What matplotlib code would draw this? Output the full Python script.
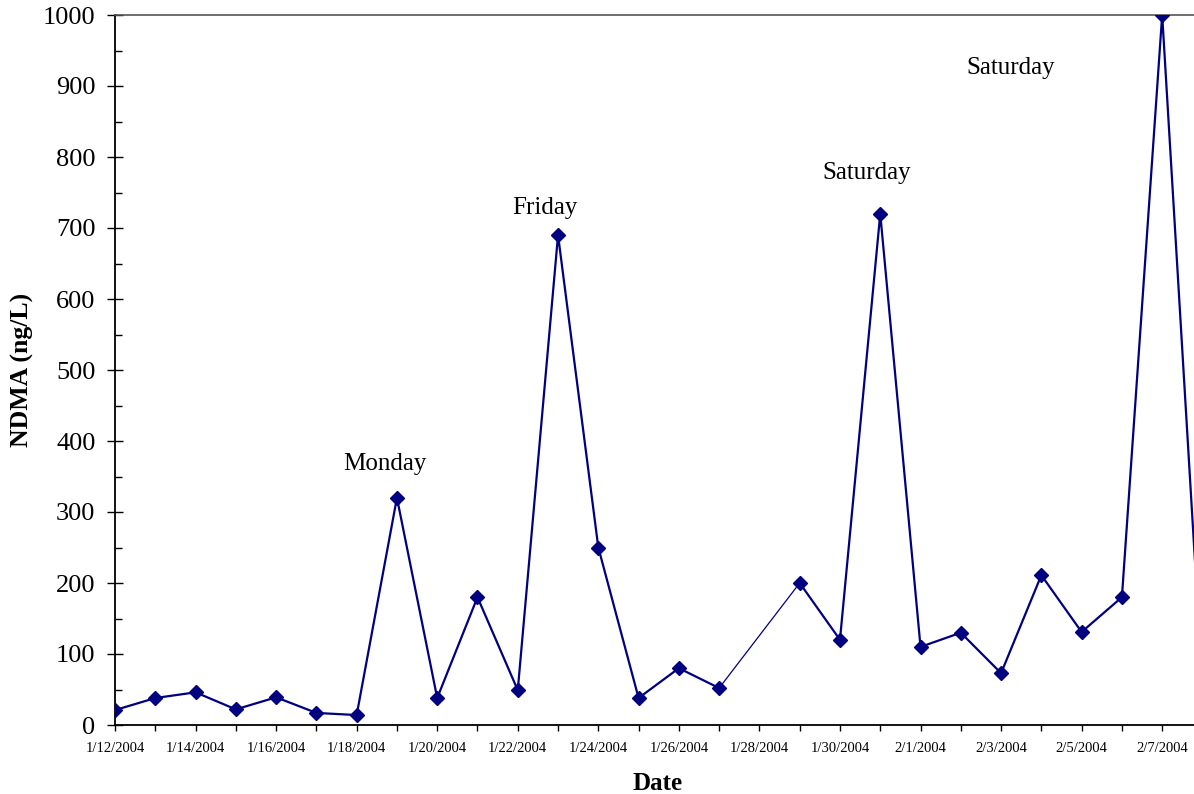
import matplotlib
matplotlib.use("Agg")
import matplotlib.pyplot as plt
import matplotlib.dates as mdates
import matplotlib.ticker as mticker
import datetime as dt

dates = ["2004-01-12", "2004-01-13", "2004-01-14", "2004-01-15", "2004-01-16",
         "2004-01-17", "2004-01-18", "2004-01-19", "2004-01-20", "2004-01-21",
         "2004-01-22", "2004-01-23", "2004-01-24", "2004-01-25", "2004-01-26",
         "2004-01-27", "2004-01-29", "2004-01-30", "2004-01-31", "2004-02-01",
         "2004-02-02", "2004-02-03", "2004-02-04", "2004-02-05", "2004-02-06",
         "2004-02-07", "2004-02-08"]
ndma = [21, 38, 46, 22, 39, 17, 14, 320, 38, 180, 49, 690, 250, 38, 80, 52,
        200, 120, 720, 110, 130, 73, 211, 131, 180, 1000, 55]

annot_text = ["Monday", "Friday", "Saturday", "Saturday"]
annot_date = ["2004-01-18 17:00", "2004-01-22 16:00", "2004-01-30 16:00", "2004-02-03 06:00"]
annot_val = [367, 728, 777, 925]

plt.rcParams['font.family'] = ['Liberation Serif', 'DejaVu Serif']

x = [dt.datetime.fromisoformat(d) for d in dates]
xn = mdates.date2num(x)

fig = plt.figure(figsize=(11.94, 7.94), dpi=100)
ax = fig.add_axes([115/1194, 1 - 725/794, 1 - 115/1194, 710/794])

col = '#000080'
gap = 15
ax.plot(xn[:gap+1], ndma[:gap+1], color=col, lw=1.6, zorder=2)
ax.plot(xn[gap:gap+2], ndma[gap:gap+2], color=col, lw=0.9, zorder=2)
ax.plot(xn[gap+1:], ndma[gap+1:], color=col, lw=1.6, zorder=2)
ax.plot(xn, ndma, linestyle='none', marker='D', ms=7, color=col, mec=col, zorder=3)

for t, d, v in zip(annot_text, annot_date, annot_val):
    ax.text(mdates.date2num(dt.datetime.fromisoformat(d)), v, t, fontsize=18,
            ha='center', va='center')

x0 = mdates.date2num(dt.datetime(2004, 1, 12))
ax.set_xlim(x0, x0 + 26.79)
ax.set_ylim(0, 1000)

days = [x0 + i for i in range(0, 28)]
ax.xaxis.set_major_locator(mticker.FixedLocator(days[::2]))
ax.xaxis.set_minor_locator(mticker.FixedLocator(days[1::2]))

def fmt(val, pos):
    d = mdates.num2date(val)
    return f"{d.month}/{d.day}/{d.year}"
ax.xaxis.set_major_formatter(mticker.FuncFormatter(fmt))

ax.yaxis.set_major_locator(mticker.MultipleLocator(100))
ax.yaxis.set_minor_locator(mticker.MultipleLocator(50))

ax.tick_params(axis='x', which='both', direction='out', length=4, width=1,
               labelsize=10.5, pad=8)
ax.tick_params(axis='y', which='major', direction='inout', length=11, width=1,
               labelsize=19, pad=8.5)
ax.tick_params(axis='y', which='minor', direction='in', length=5, width=1)

ax.spines['right'].set_visible(False)
ax.spines['top'].set_color('#555555')
ax.spines['top'].set_linewidth(1.2)
ax.spines['left'].set_linewidth(1.3)
ax.spines['bottom'].set_linewidth(1.3)

fig.text(658/1194, 1 - 783/794, "Date", fontsize=18, fontweight='bold',
         ha='center', va='center')
fig.text(22/1194, 1 - 370/794, "NDMA (ng/L)", fontsize=18.5, fontweight='bold',
         ha='center', va='center', rotation=90)

fig.savefig("out.png", dpi=100)
